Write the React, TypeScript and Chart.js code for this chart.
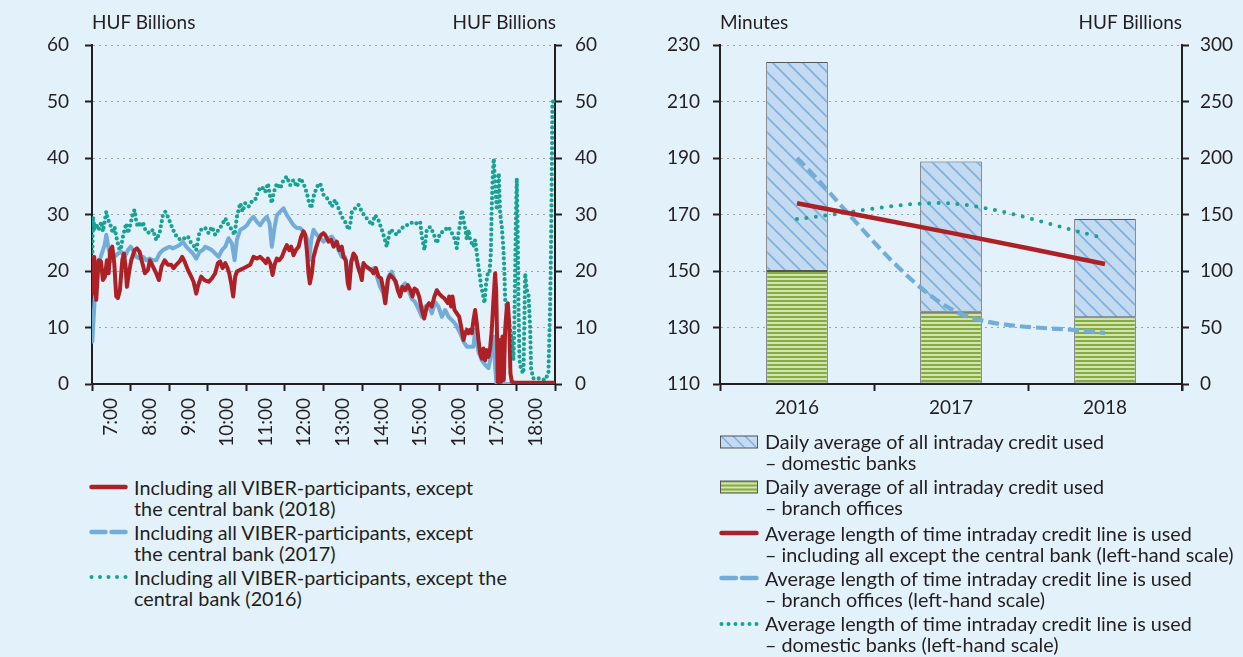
import React, { useEffect, useRef } from 'react';
import { Chart, registerables } from 'chart.js';

Chart.register(...registerables);

const FONT_FAMILY = 'Lato, "Open Sans", sans-serif';
const TICK_FONT_SIZE = 19;
const TITLE_FONT_SIZE = 19;
const LEGEND_FONT_SIZE = 19.8;
const TEXT_COLOR = '#231f20';
const AXIS_COLOR = '#231f20';
const GRID_COLOR = '#a3a3a3';
const BG = '#e3f1fa';
const RED = '#ad2126';
const LIGHT_BLUE = '#74acd9';
const TEAL = '#17a293';
const HATCH_BG = '#c4daf1';
const HATCH_LINE = '#7db1de';
const STRIPE_DARK = '#86ab42';
const STRIPE_LIGHT = '#d3e5ae';
const BAR_BORDER = '#555555';

// ---------- Left chart data (time in minutes after midnight, HUF billions) ----------
const hourTicks = [420, 480, 540, 600, 660, 720, 780, 840, 900, 960, 1020, 1080];
const hourTickLabels = ['7:00', '8:00', '9:00', '10:00', '11:00', '12:00', '13:00', '14:00', '15:00', '16:00', '17:00', '18:00'];
const halfHourMarks = [390, 450, 510, 570, 630, 690, 750, 810, 870, 930, 990, 1050, 1110];

const viber2018: [number, number][] = [
  [390, 21.9], [391.5, 16], [393.5, 22.5], [396.6, 14.9], [400.3, 21.9], [403.9, 21.7], [407, 18.4], [410.1, 19],
  [413.2, 21.9], [415.8, 19.6], [418.4, 23.7], [421.5, 24.3], [424.6, 21.4], [427.7, 15.5], [430.3, 15.2], [433.4, 16.6],
  [437.1, 21.9], [439.6, 23.1], [442.2, 20.8], [444.3, 17.2], [447.4, 19.6], [451, 21.9], [456.2, 23.7], [459.9, 24],
  [464, 23.4], [467.1, 21.9], [469.7, 20.8], [472.3, 19.6], [477, 20.2], [480.1, 21.9], [484.7, 20.8], [489.9, 19.6],
  [494, 18.4], [498.2, 20.8], [502.9, 21.9], [508, 21.1], [513.2, 21.1], [516.8, 20.5], [521, 21.1], [526.2, 21.7],
  [530.3, 22.5], [533.9, 21.7], [539.1, 20.2], [544.3, 19], [547.9, 18.1], [552.1, 16], [555.2, 17.5], [559.8, 19],
  [565, 18.4], [571.3, 18.1], [576.5, 18.7], [581.6, 19.6], [585.8, 21.4], [589.4, 21.7], [593, 20.5], [597.2, 21.4],
  [600.8, 20.5], [603.4, 19.6], [606.5, 17.8], [609.6, 15.5], [612.7, 19], [615.3, 19.9], [620.5, 20.2], [625.7, 20.5],
  [630.9, 20.8], [636, 21.1], [641.2, 22.5], [646.4, 22.2], [651.6, 22.5], [656.8, 21.9], [660.4, 21.4], [663.5, 22.2],
  [667.1, 21.4], [670.8, 19.3], [673.9, 21.1], [677.5, 22.2], [681.1, 21.9], [685.3, 22.5], [689.4, 23.7], [693, 24.6],
  [696.7, 23.7], [699.8, 24.3], [703.4, 22.8], [707, 23.7], [711.2, 24.3], [715.3, 26.1], [718.9, 27], [721.5, 26.4],
  [724.1, 23.7], [726.7, 19.6], [728.8, 17.8], [731.9, 19.6], [734.5, 22.5], [738.1, 24], [742.3, 25.5], [746.4, 26.4],
  [750, 26.7], [752.6, 26.4], [757.8, 25.2], [761.9, 25.5], [765.6, 24.3], [770.7, 25.2], [774.4, 23.7], [778.5, 24.3],
  [781.1, 22.5], [784.7, 21.9], [787.8, 17.8], [789.9, 16.9], [793, 21.4], [796.6, 23.1], [800.3, 22.5], [803.4, 20.8],
  [807, 19.6], [809.6, 18.4], [812.2, 21.4], [815.8, 20.8], [820, 20.5], [824.1, 20.2], [827.7, 19.6], [831.4, 20.5],
  [835.5, 19], [839.6, 18.7], [843.3, 16.6], [845.9, 14.3], [850, 18.4], [853.6, 19.3], [858.8, 18.7], [862.4, 18.1],
  [865.5, 16.6], [869.2, 15.5], [872.8, 17.2], [877, 16.6], [881.1, 17.5], [885.2, 16.6], [888.3, 15.5], [891.5, 16.9],
  [895.1, 16.6], [898.7, 15.5], [902.9, 13.1], [906.5, 11.6], [910.6, 13.7], [914.2, 14.3], [918.4, 13.7], [922.5, 15.5],
  [926.2, 16.6], [929.8, 16], [933.9, 15.5], [937.6, 15.2], [943.3, 14.3], [945.4, 15.5], [948.5, 13.7], [950.6, 15.5],
  [953.7, 13.1], [957.3, 12.5], [961, 11.9], [964.1, 10.1], [967.7, 7.8], [970.3, 9], [972.9, 9.6], [975.5, 9],
  [978.1, 9.6], [980.6, 9], [983.2, 11.3], [985.8, 13.1], [988.4, 10.7], [991, 7.8], [993.6, 5.4], [996.2, 4.5],
  [998.8, 6.3], [1001.4, 4.2], [1004, 6], [1006.6, 4.8], [1009.1, 6.3], [1011.7, 9.6], [1014.3, 14.9], [1016.9, 19.6],
  [1018.5, 16.6], [1020, 7.8], [1021, 0.4], [1023.1, 0.1], [1024.7, 7.8], [1026.2, 0.4], [1028.3, 8.4], [1030.4, 0.7],
  [1032.5, 9.6], [1035.1, 13.7], [1036.6, 14.3], [1038.7, 10.7], [1040.7, 1.9], [1042.8, 0.4], [1048, 0.2], [1108, 0.2],
];

const viber2017: [number, number][] = [
  [390.5, 7.5], [394.1, 14.9], [396.6, 19], [401.8, 21.9], [407, 23.7], [409.6, 24.6], [412.2, 26.4], [416.3, 23.7],
  [420, 21.7], [425.1, 22.5], [430.3, 23.1], [435.5, 23.4], [440.7, 22.5], [445.9, 23.7], [450, 24.3], [453.6, 23.7],
  [458.8, 22.5], [464, 22.2], [469.2, 22.5], [474.4, 21.9], [479.5, 22.2], [484.7, 21.9], [489.9, 21.9], [495.1, 23.1],
  [500.3, 23.7], [505.4, 24], [510.6, 24.3], [515.8, 24], [521, 24.3], [526.2, 24.6], [531.3, 25.2], [536.5, 24.3],
  [541.7, 23.7], [546.9, 23.1], [552.1, 22.2], [557.3, 23.4], [562.4, 23.7], [566.1, 24.3], [571.3, 24], [576.5, 23.7],
  [581.6, 23.1], [586.8, 22.5], [592, 23.7], [597.2, 24.3], [602.4, 25.8], [607.5, 24.9], [611.7, 21.9], [615.3, 25.5],
  [620.5, 27.3], [625.7, 27.6], [630.9, 28.1], [636, 29], [641.2, 29.6], [646.4, 28.7], [651.6, 28.1], [656.8, 29],
  [662, 29.6], [666.1, 28.4], [669.7, 24.3], [673.3, 27.3], [677.5, 29.9], [682.7, 30.5], [687.8, 31.1], [693, 29.9],
  [698.2, 29], [703.4, 28.1], [708.6, 27.6], [713.7, 27.6], [718.9, 27], [724.1, 25.8], [727.7, 21.9], [730.9, 25.5],
  [734.5, 27.3], [739.7, 26.4], [744.9, 25.8], [750, 25.2], [752.6, 25.5], [757.8, 25.8], [763, 26.1], [768.1, 25.2],
  [773.3, 23.7], [778.5, 22.5], [783.7, 22.5], [787.8, 18.4], [793, 21.9], [796.6, 22.5], [801.8, 21.7], [807, 19.9],
  [812.2, 21.1], [817.4, 20.8], [822.5, 20.2], [827.7, 20.5], [832.9, 19], [838.1, 17.2], [843.3, 16], [846.4, 14.3],
  [851, 19], [856.2, 19.9], [861.4, 18.1], [866.6, 16.6], [871.8, 17.2], [877, 17.8], [882.1, 16.6], [887.3, 15.1],
  [892.5, 14.5], [897.7, 13.3], [902.9, 11.9], [908, 13.7], [913.2, 14], [918.4, 12.5], [923.6, 14.5], [928.8, 13.7],
  [934, 11.9], [939.1, 13.1], [944.4, 11.9], [949.6, 11.3], [954.7, 10.7], [962.5, 9], [967.7, 7.5], [972.9, 6.6],
  [978.1, 6.6], [983.2, 6.6], [985.8, 9.6], [988.4, 7.8], [991, 5.7], [996.2, 4.2], [1001.4, 3.4], [1006.6, 2.8],
  [1009.1, 4.2], [1011.7, 6.6], [1014.3, 8.4], [1017, 3], [1019, 0], [1108, 0],
];

const viber2016: [number, number][] = [
  [390.4, 22.5], [391.5, 29.6], [394.1, 27.3], [396.6, 28.4], [399.2, 27.3], [401.8, 27.6], [404.4, 28.7], [407, 27],
  [409.6, 28.7], [412.2, 30.5], [414.8, 29], [417.4, 28.7], [420, 27.6], [422.5, 26.7], [425.1, 27.8], [427.7, 26.1],
  [430.3, 24.9], [432.9, 23.7], [435.5, 24.3], [438.1, 26.1], [440.7, 27.3], [443.3, 28.4], [445.9, 26.7], [448.4, 27.6],
  [453.6, 30.2], [456.2, 30.8], [458.8, 28.7], [461.4, 27.8], [464, 28.7], [466.6, 27.8], [469.2, 28.7], [471.8, 27.6],
  [474.4, 27], [479.5, 26.7], [484.7, 27.3], [489.9, 25.5], [495.1, 26.7], [500.3, 29.9], [503.9, 30.5], [508, 29.6],
  [513.2, 28.1], [518.4, 26.7], [523.6, 25.8], [528.8, 25.5], [533.9, 25.8], [539.1, 26.1], [544.3, 24.9], [549.5, 24.3],
  [552.1, 23.7], [557.3, 27], [562.4, 27.6], [566.1, 27.6], [571.3, 26.7], [576.5, 27.8], [581.6, 26.4], [586.8, 27.3],
  [592, 28.1], [597.2, 29.3], [602.4, 28.1], [607.5, 27.3], [611.7, 26.4], [615.3, 29.6], [620.5, 32], [624.1, 30.5],
  [628.3, 32], [633.5, 31.4], [638.6, 32.3], [643.8, 32.6], [649, 34.3], [654.2, 34.9], [659.4, 34], [663.5, 35.5],
  [667.1, 33.2], [669.7, 32], [672.3, 33.8], [677.5, 35.5], [682.7, 34.6], [687.8, 36.1], [693, 36.7], [698.2, 35.2],
  [703.4, 36.1], [708.6, 34.9], [713.7, 36.4], [718.9, 35.5], [724.1, 33.8], [727.7, 32], [730.9, 31.1], [734.5, 33.2],
  [739.7, 34.9], [744.9, 35.5], [750, 33.5], [752.6, 33.2], [757.8, 32.6], [763, 31.4], [768.1, 32.6], [773.3, 31.1],
  [778.5, 29.6], [783.7, 28.7], [788.9, 27.3], [791.5, 28.1], [794.1, 30.5], [799.3, 31.1], [804.4, 31.7], [809.6, 30.5],
  [814.8, 29.6], [820, 29], [825.2, 28.1], [830.3, 29.9], [835.5, 29], [840.7, 27.3], [844.8, 25.8], [848.4, 24.3],
  [853.6, 27.3], [858.8, 27], [864, 26.4], [869.2, 27.3], [874.4, 27.8], [879.5, 28.1], [884.7, 28.4], [889.9, 28.7],
  [895.1, 28.4], [900.3, 28.7], [902.9, 26.1], [907, 23.7], [910.6, 27.3], [915.8, 27.8], [921, 26.7], [926.2, 24.9],
  [931.3, 26.7], [936.5, 27], [939.2, 27.3], [944.4, 27.8], [949.6, 26.7], [954.7, 25.5], [957.3, 24], [959.9, 26.7],
  [962.5, 28.4], [965.1, 30.8], [967.7, 29], [970.3, 27.6], [972.9, 25.5], [975.5, 27.3], [978.1, 25.5], [980.6, 24.9],
  [983.2, 24.3], [985.8, 25.5], [988.4, 23.1], [991, 20.8], [992.6, 19.6], [995.2, 17.2], [997.7, 16], [1000.3, 14.3],
  [1002.9, 17.8], [1005.5, 19.6], [1008.1, 19.6], [1010.2, 23.1], [1011.7, 31.4], [1013.3, 37.3], [1014.8, 39.9], [1016.9, 35.5],
  [1019.5, 30.8], [1021, 32.6], [1022.6, 37.3], [1024.7, 30.2], [1027.3, 27.8], [1029.9, 23.7], [1031.4, 19.6], [1032.5, 14.9],
  [1035.1, 13.7], [1037.6, 11.9], [1040.2, 9.6], [1042.8, 7.8], [1045.4, 4.2], [1046.9, 10.7], [1048, 19.6], [1049.5, 31.4],
  [1050.6, 36.4], [1052.2, 25.5], [1053.2, 13.7], [1054.8, 4.2], [1057.3, 2.5], [1061, 1.9], [1063.6, 19.6], [1066.1, 16.6],
  [1068.7, 16], [1071.3, 10.1], [1072.9, 2.5], [1076.5, 1], [1084.3, 1], [1094.6, 0.7], [1099.8, 1.9], [1102.4, 13.7],
  [1104, 25.5], [1105, 37.3], [1106, 49.7], [1107, 50],
];

// ---------- Right chart data ----------
const years = ['2016', '2017', '2018'];
const creditDomesticBanks = [185, 133, 87]; // HUF billions (stacked on top)
const creditBranchOffices = [100, 64, 59]; // HUF billions
const timeAllExceptCB = [174, 163.5, 152.5]; // minutes
const timeBranchOffices = [190, 136.5, 128]; // minutes
const timeDomesticBanks = [168.4, 173.9, 161.6]; // minutes

const tickFont = { family: FONT_FAMILY, size: TICK_FONT_SIZE };

function hatchPattern(ctx: CanvasRenderingContext2D) {
  const s = 15;
  const c = document.createElement('canvas');
  c.width = s;
  c.height = s;
  const g = c.getContext('2d')!;
  g.fillStyle = HATCH_BG;
  g.fillRect(0, 0, s, s);
  g.strokeStyle = HATCH_LINE;
  g.lineWidth = 1.7;
  for (const k of [-1, 0, 1]) {
    g.beginPath();
    g.moveTo(-2, -2 + k * s);
    g.lineTo(s + 2, s + 2 + k * s);
    g.stroke();
  }
  return ctx.createPattern(c, 'repeat');
}

function stripePattern(ctx: CanvasRenderingContext2D) {
  const c = document.createElement('canvas');
  c.width = 4;
  c.height = 4;
  const g = c.getContext('2d')!;
  g.fillStyle = STRIPE_LIGHT;
  g.fillRect(0, 0, 4, 4);
  g.fillStyle = STRIPE_DARK;
  g.fillRect(0, 0, 4, 2);
  return ctx.createPattern(c, 'repeat');
}

const toPoints = (arr: [number, number][]) => arr.map(([x, y]) => ({ x, y }));

function LeftChart() {
  const ref = useRef<HTMLCanvasElement>(null);
  useEffect(() => {
    const canvas = ref.current!;
    const chart = new Chart(canvas, {
      type: 'line',
      data: {
        datasets: [
          {
            label: '2018', data: toPoints(viber2018), borderColor: RED, borderWidth: 4, pointRadius: 0,
            tension: 0, borderJoinStyle: 'round', borderCapStyle: 'round', yAxisID: 'y',
          },
          {
            label: '2017', data: toPoints(viber2017), borderColor: LIGHT_BLUE, borderWidth: 4, pointRadius: 0,
            tension: 0, borderJoinStyle: 'round', borderCapStyle: 'round', yAxisID: 'y',
          },
          {
            label: '2016', data: toPoints(viber2016), borderColor: TEAL, borderWidth: 4.2, pointRadius: 0,
            tension: 0, borderDash: [0, 5.2], borderCapStyle: 'round', borderJoinStyle: 'round', yAxisID: 'y',
          },
        ],
      } as any,
      options: {
        responsive: false,
        animation: false,
        layout: { padding: { top: 45, left: 0, right: 0, bottom: 0 } },
        plugins: { legend: { display: false }, tooltip: { enabled: false } },
        scales: {
          x: {
            type: 'linear',
            min: halfHourMarks[0],
            max: halfHourMarks[halfHourMarks.length - 1],
            afterBuildTicks: (s: any) => {
              const all = [...halfHourMarks, ...hourTicks].sort((a, b) => a - b);
              s.ticks = all.map((v) => ({ value: v }));
            },
            afterFit: (s: any) => {
              s.height = 76;
              s.paddingLeft = 0;
              s.paddingRight = 0;
            },
            ticks: {
              autoSkip: false,
              minRotation: 90,
              maxRotation: 90,
              padding: 7,
              color: TEXT_COLOR,
              font: tickFont,
              callback: (v: any) => {
                const i = hourTicks.indexOf(Number(v));
                return i >= 0 ? hourTickLabels[i] : '';
              },
            },
            grid: {
              drawOnChartArea: false,
              tickLength: 7,
              tickWidth: 2,
              tickColor: (c: any) => (c.tick && halfHourMarks.includes(c.tick.value) ? AXIS_COLOR : 'rgba(0,0,0,0)'),
            },
            border: { color: AXIS_COLOR, width: 2 },
          },
          y: {
            position: 'left',
            min: 0,
            max: 60,
            afterFit: (s: any) => {
              s.width = 92;
              s.paddingTop = 0;
              s.paddingBottom = 0;
            },
            ticks: { stepSize: 10, padding: 16, color: TEXT_COLOR, font: tickFont },
            grid: { color: GRID_COLOR, lineWidth: 1, tickLength: 7, tickWidth: 2, tickColor: AXIS_COLOR },
            border: { color: AXIS_COLOR, width: 2, dash: [2, 4] },
          },
          y2: {
            position: 'right',
            min: 0,
            max: 60,
            afterFit: (s: any) => {
              s.width = 65;
              s.paddingTop = 0;
              s.paddingBottom = 0;
            },
            ticks: { stepSize: 10, padding: 13, color: TEXT_COLOR, font: tickFont },
            grid: { drawOnChartArea: false, tickLength: 7, tickWidth: 2, tickColor: AXIS_COLOR },
            border: { color: AXIS_COLOR, width: 2 },
          },
        },
      } as any,
    });
    return () => chart.destroy();
  }, []);
  return <canvas ref={ref} width={620} height={460} style={{ position: 'absolute', left: 0, top: 0 }} />;
}

const endTickPlugin = {
  id: 'endTick',
  afterDraw(chart: any) {
    const { ctx, chartArea } = chart;
    ctx.save();
    ctx.strokeStyle = AXIS_COLOR;
    ctx.lineWidth = 2;
    ctx.beginPath();
    ctx.moveTo(chartArea.right, chartArea.bottom);
    ctx.lineTo(chartArea.right, chartArea.bottom + 7);
    ctx.stroke();
    ctx.restore();
  },
};

function RightChart() {
  const ref = useRef<HTMLCanvasElement>(null);
  useEffect(() => {
    const canvas = ref.current!;
    const ctx = canvas.getContext('2d')!;
    const chart = new Chart(canvas, {
      type: 'bar',
      data: {
        labels: years,
        datasets: [
          {
            type: 'line', label: 'all', data: timeAllExceptCB, yAxisID: 'y', borderColor: RED, borderWidth: 4.5,
            pointRadius: 0, tension: 0.3, borderCapStyle: 'butt', order: 0,
          },
          {
            type: 'line', label: 'branch', data: timeBranchOffices, yAxisID: 'y', borderColor: LIGHT_BLUE, borderWidth: 4.2,
            pointRadius: 0, tension: 0.3, borderDash: [11, 5], order: 1,
          },
          {
            type: 'line', label: 'domestic', data: timeDomesticBanks, yAxisID: 'y', borderColor: TEAL, borderWidth: 4,
            pointRadius: 0, tension: 0.3, borderDash: [0, 9.5], borderCapStyle: 'round', order: 2,
          },
          {
            type: 'bar', label: 'credit branch', data: creditBranchOffices, yAxisID: 'y2', stack: 's',
            backgroundColor: stripePattern(ctx), borderColor: BAR_BORDER, borderWidth: 1, borderSkipped: false,
            barPercentage: 0.4, categoryPercentage: 1, order: 10,
          },
          {
            type: 'bar', label: 'credit domestic', data: creditDomesticBanks, yAxisID: 'y2', stack: 's',
            backgroundColor: hatchPattern(ctx), borderColor: BAR_BORDER, borderWidth: 1, borderSkipped: false,
            barPercentage: 0.4, categoryPercentage: 1, order: 10,
          },
        ],
      } as any,
      options: {
        responsive: false,
        animation: false,
        layout: { padding: { top: 45, left: 0, right: 0, bottom: 0 } },
        plugins: { legend: { display: false }, tooltip: { enabled: false } },
        scales: {
          x: {
            stacked: true,
            afterFit: (s: any) => {
              s.height = 76;
              s.paddingLeft = 0;
              s.paddingRight = 0;
            },
            ticks: { padding: 5, color: TEXT_COLOR, font: tickFont, maxRotation: 0 },
            grid: { offset: true, drawOnChartArea: false, tickLength: 7, tickWidth: 2, tickColor: AXIS_COLOR },
            border: { color: AXIS_COLOR, width: 2 },
          },
          y: {
            position: 'left',
            min: 110,
            max: 230,
            afterFit: (s: any) => {
              s.width = 100;
              s.paddingTop = 0;
              s.paddingBottom = 0;
            },
            ticks: { stepSize: 20, padding: 13, color: TEXT_COLOR, font: tickFont },
            grid: { color: GRID_COLOR, lineWidth: 1, tickLength: 7, tickWidth: 2, tickColor: AXIS_COLOR },
            border: { color: AXIS_COLOR, width: 2, dash: [2, 4] },
          },
          y2: {
            position: 'right',
            stacked: true,
            min: 0,
            max: 300,
            afterFit: (s: any) => {
              s.width = 61;
              s.paddingTop = 0;
              s.paddingBottom = 0;
            },
            ticks: { stepSize: 50, padding: 11, color: TEXT_COLOR, font: tickFont },
            grid: { drawOnChartArea: false, tickLength: 7, tickWidth: 2, tickColor: AXIS_COLOR },
            border: { color: AXIS_COLOR, width: 2 },
          },
        },
      } as any,
      plugins: [endTickPlugin],
    });
    return () => chart.destroy();
  }, []);
  return <canvas ref={ref} width={623} height={460} style={{ position: 'absolute', left: 620, top: 0 }} />;
}

const textStyle: React.CSSProperties = {
  position: 'absolute',
  whiteSpace: 'nowrap',
  fontFamily: FONT_FAMILY,
  fontSize: LEGEND_FONT_SIZE,
  lineHeight: '21px',
  color: TEXT_COLOR,
};

const titleStyle: React.CSSProperties = { ...textStyle, fontSize: TITLE_FONT_SIZE };

function LineSwatch({ x, y, kind, width }: { x: number; y: number; kind: 'solid' | 'dash' | 'dot'; width: number }) {
  const n = width > 39 ? 6 : 5;
  return (
    <svg style={{ position: 'absolute', left: x, top: y - 6 }} width={width} height={12}>
      {kind === 'solid' && <line x1={2.5} y1={6} x2={width - 2.5} y2={6} stroke={RED} strokeWidth={4.5} strokeLinecap="round" />}
      {kind === 'dash' && (
        <>
          <line x1={2.5} y1={6} x2={width / 2 - 3} y2={6} stroke={LIGHT_BLUE} strokeWidth={4.5} strokeLinecap="round" />
          <line x1={width / 2 + 3} y1={6} x2={width - 2.5} y2={6} stroke={LIGHT_BLUE} strokeWidth={4.5} strokeLinecap="round" />
        </>
      )}
      {kind === 'dot' &&
        Array.from({ length: n }, (_v, i) => (
          <circle key={i} cx={2.5 + (i * (width - 5)) / (n - 1)} cy={6} r={2} fill={TEAL} />
        ))}
    </svg>
  );
}

function BoxSwatch({ x, y, kind }: { x: number; y: number; kind: 'hatch' | 'stripe' }) {
  const id = kind === 'hatch' ? 'legHatch' : 'legStripe';
  return (
    <svg style={{ position: 'absolute', left: x, top: y - 7 }} width={38} height={14}>
      <defs>
        <pattern id="legHatch" width="12" height="12" patternUnits="userSpaceOnUse">
          <rect width="12" height="12" fill={HATCH_BG} />
          <line x1="-2" y1="-2" x2="14" y2="14" stroke={HATCH_LINE} strokeWidth="1.5" />
        </pattern>
        <pattern id="legStripe" width="4" height="4" patternUnits="userSpaceOnUse">
          <rect width="4" height="4" fill={STRIPE_LIGHT} />
          <rect width="4" height="2" y="0.5" fill={STRIPE_DARK} />
        </pattern>
      </defs>
      <rect x={0.5} y={1} width={37} height={12} fill={`url(#${id})`} stroke={BAR_BORDER} strokeWidth={1} />
    </svg>
  );
}

const leftLegend = [
  { kind: 'solid' as const, lines: ['Including all VIBER-participants, except', 'the central bank (2018)'], y: 487 },
  { kind: 'dash' as const, lines: ['Including all VIBER-participants, except', 'the central bank (2017)'], y: 532 },
  { kind: 'dot' as const, lines: ['Including all VIBER-participants, except the', 'central bank (2016)'], y: 577 },
];

const rightLegend = [
  { kind: 'hatch', lines: ['Daily average of all intraday credit used', '– domestic banks'], y: 441.5 },
  { kind: 'stripe', lines: ['Daily average of all intraday credit used', '– branch offices'], y: 486.5 },
  { kind: 'solid', lines: ['Average length of time intraday credit line is used', '– including all except the central bank (left-hand scale)'], y: 533 },
  { kind: 'dash', lines: ['Average length of time intraday credit line is used', '– branch offices (left-hand scale)'], y: 578 },
  { kind: 'dot', lines: ['Average length of time intraday credit line is used', '– domestic banks (left-hand scale)'], y: 623.5 },
];

export default function App() {
  return (
    <div
      style={{
        position: 'fixed', left: 0, top: 0, width: 1243, height: 657, background: BG, overflow: 'hidden',
        fontFamily: FONT_FAMILY, color: TEXT_COLOR,
      }}
    >
      <LeftChart />
      <RightChart />
      <div style={{ ...titleStyle, left: 92, top: 11 }}>HUF Billions</div>
      <div style={{ ...titleStyle, right: 1243 - 556, top: 11, textAlign: 'right' }}>HUF Billions</div>
      <div style={{ ...titleStyle, left: 720, top: 11 }}>Minutes</div>
      <div style={{ ...titleStyle, right: 1243 - 1182, top: 11, textAlign: 'right' }}>HUF Billions</div>

      {leftLegend.map((e, i) => (
        <React.Fragment key={'l' + i}>
          <LineSwatch x={89} y={e.y} kind={e.kind} width={39} />
          <div style={{ ...textStyle, left: 134, top: e.y - 10.5 }}>
            {e.lines[0]}
            <br />
            {e.lines[1]}
          </div>
        </React.Fragment>
      ))}

      {rightLegend.map((e, i) => (
        <React.Fragment key={'r' + i}>
          {e.kind === 'hatch' || e.kind === 'stripe' ? (
            <BoxSwatch x={720} y={e.y} kind={e.kind as any} />
          ) : (
            <LineSwatch x={719} y={e.y} kind={e.kind as any} width={40} />
          )}
          <div style={{ ...textStyle, left: 765, top: e.y - 10.5 }}>
            {e.lines[0]}
            <br />
            {e.lines[1]}
          </div>
        </React.Fragment>
      ))}
    </div>
  );
}
